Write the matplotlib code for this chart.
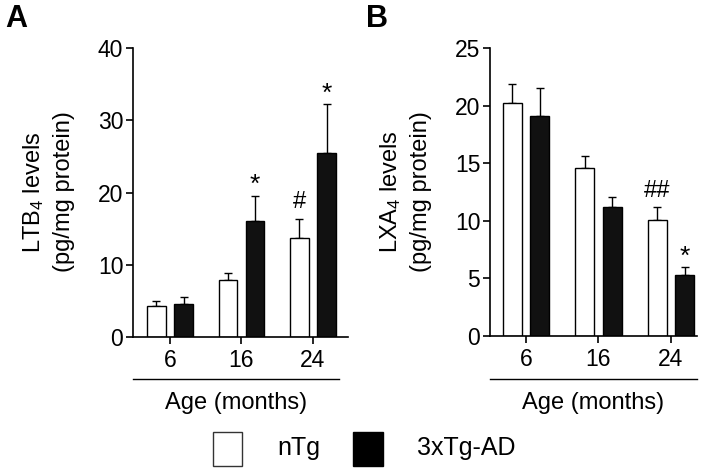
import matplotlib
matplotlib.use("Agg")
import matplotlib.pyplot as plt
from matplotlib.patches import Rectangle
from matplotlib.lines import Line2D
import numpy as np

plt.rcParams['font.family'] = ['Liberation Sans', 'DejaVu Sans']
plt.rcParams['mathtext.fontset'] = 'custom'
plt.rcParams['mathtext.rm'] = 'Liberation Sans'
plt.rcParams['mathtext.it'] = 'Liberation Sans:italic'
plt.rcParams['mathtext.default'] = 'regular'

ages = ["6", "16", "24"]
groups = ["nTg", "3xTg-AD"]
ltb4_ntg = [4.25, 7.86, 13.73]
ltb4_ntg_err = [0.70, 0.93, 2.59]
ltb4_tg = [4.53, 16.05, 25.53]
ltb4_tg_err = [0.93, 3.51, 6.70]
lxa4_ntg = [20.22, 14.60, 10.08]
lxa4_ntg_err = [1.65, 1.07, 1.10]
lxa4_tg = [19.12, 11.21, 5.27]
lxa4_tg_err = [2.40, 0.87, 0.70]
ltb4_marks_ntg = ["", "", "#"]
ltb4_marks_tg = ["", "*", "*"]
lxa4_marks_ntg = ["", "", "##"]
lxa4_marks_tg = ["", "", "*"]

W, H = 714, 474
fig = plt.figure(figsize=(W/100, H/100), dpi=100)

def px_axes(x0, x1, y0, y1):
    return fig.add_axes([x0/W, 1 - y0/H, (x1-x0)/W, (y0-y1)/H])

def panel(ax, ntg, ntg_err, tg, tg_err, ymax, yticks, mk_ntg, mk_tg, ylab1, ylab2, xlim,
          letter, lx, line_x0, line_x1, ylx1, ylx2, ycen):
    x = np.arange(len(ages))
    off = 0.19
    w = 0.26
    ax.bar(x - off, ntg, w, color='white', edgecolor='black', linewidth=1.0, zorder=2)
    ax.bar(x + off, tg, w, color='#111111', edgecolor='black', linewidth=1.0, zorder=2)
    ax.errorbar(x - off, ntg, yerr=[np.zeros(3), ntg_err], fmt='none', ecolor='black',
                elinewidth=1.0, capsize=3, capthick=1.0, zorder=1)
    ax.errorbar(x + off, tg, yerr=[np.zeros(3), tg_err], fmt='none', ecolor='black',
                elinewidth=1.0, capsize=3, capthick=1.0, zorder=1)
    for i in range(3):
        if mk_ntg[i]:
            ax.text(x[i] - off, ntg[i] + ntg_err[i] + ymax*0.02, mk_ntg[i], ha='center',
                    va='bottom', fontsize=17)
        if mk_tg[i]:
            ax.text(x[i] + off, tg[i] + tg_err[i] - ymax*0.005, mk_tg[i], ha='center',
                    va='bottom', fontsize=19)
    ax.set_ylim(0, ymax)
    ax.set_xlim(*xlim)
    ax.set_yticks(yticks)
    ax.set_xticks(x)
    ax.set_xticklabels(ages)
    for s in ['top', 'right']:
        ax.spines[s].set_visible(False)
    for s in ['left', 'bottom']:
        ax.spines[s].set_linewidth(1.2)
    ax.tick_params(axis='both', direction='out', length=5, width=1.2, labelsize=16.5)
    ax.tick_params(axis='y', pad=2)
    ax.tick_params(axis='x', pad=4)
    fig.text(ylx1/W, 1-ycen/H, ylab1, ha='center', va='center', rotation=90, fontsize=17)
    fig.text(ylx2/W, 1-ycen/H, ylab2, ha='center', va='center', rotation=90, fontsize=17)
    fig.add_artist(Line2D([line_x0/W, line_x1/W], [1-379/H, 1-379/H], color='black', linewidth=1.0))
    fig.text((line_x0+line_x1)/2/W, 1-403/H, "Age (months)", ha='center', va='center', fontsize=17)
    fig.text(lx/W, 1-19/H, letter, ha='left', va='center', fontsize=22, fontweight='bold')

axA = px_axes(133, 348, 336.7, 48.3)
panel(axA, ltb4_ntg, ltb4_ntg_err, ltb4_tg, ltb4_tg_err, 40, [0, 10, 20, 30, 40],
      ltb4_marks_ntg, ltb4_marks_tg, "LTB$_4$ levels", "(pg/mg protein)", (-0.517, 2.49),
      "A", 5, 133, 339, 34, 64, 192)

axB = px_axes(490, 697, 336, 48.3)
panel(axB, lxa4_ntg, lxa4_ntg_err, lxa4_tg, lxa4_tg_err, 25, [0, 5, 10, 15, 20, 25],
      lxa4_marks_ntg, lxa4_marks_tg, "LXA$_4$ levels", "(pg/mg protein)", (-0.497, 2.36),
      "B", 366, 490, 697, 391, 421, 192)

# legend
fig.add_artist(Rectangle((213/W, 1-466/H), 29/W, 34/H, facecolor='white', edgecolor='#333333', linewidth=1.0))
fig.text(277/W, 1-448/H, groups[0], ha='left', va='center', fontsize=18)
fig.add_artist(Rectangle((353/W, 1-466/H), 30/W, 34/H, facecolor='black', edgecolor='black', linewidth=1.0))
fig.text(417/W, 1-448/H, groups[1], ha='left', va='center', fontsize=18)

fig.savefig("out.png", dpi=100)
